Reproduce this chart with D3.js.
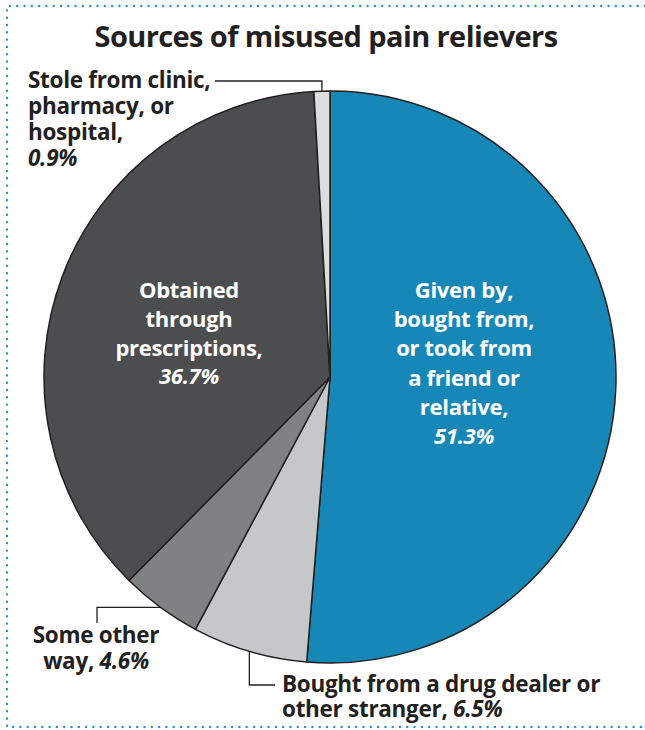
<!DOCTYPE html>
<html>
<head>
<meta charset="utf-8">
<script src="https://cdn.jsdelivr.net/npm/d3@7"></script>
<style>
  body { margin: 0; background: #fff; }
  svg text { font-family: "Open Sans", "Lato", sans-serif; font-weight: 700; fill: #231f20; }
</style>
</head>
<body>
<svg width="645" height="730"></svg>
<script>
// slice data, clockwise from 12 o'clock
var categories = ["Given by, bought from, or took from a friend or relative",
                  "Bought from a drug dealer or other stranger",
                  "Some other way",
                  "Obtained through prescriptions",
                  "Stole from clinic, pharmacy, or hospital"];
var shares = [51.3, 6.5, 4.6, 36.7, 0.9];
var pctLabels = ["51.3%", "6.5%", "4.6%", "36.7%", "0.9%"];
var sliceColors = ["#1787b8", "#c6c7c9", "#808184", "#4c4d4f", "#dcdddf"];

var svg = d3.select("svg");
var cx = 330, cy = 377, radius = 286;

// dotted frame (top, left, bottom)
var frame = svg.append("g")
    .attr("fill", "none")
    .attr("stroke", "#2b8fc6")
    .attr("stroke-width", 2.4)
    .attr("stroke-linecap", "round")
    .attr("stroke-dasharray", "0 7.3");
frame.append("path").attr("d", "M645,6 H7 V727 H645");

svg.append("text")
    .attr("x", 326)
    .attr("y", 47)
    .attr("text-anchor", "middle")
    .attr("font-size", 29)
    .attr("letter-spacing", -0.6)
    .text("Sources of misused pain relievers");

var data = categories.map(function (c, i) {
    return { name: c, value: shares[i], pct: pctLabels[i], color: sliceColors[i] };
});

var pie = d3.pie()
    .sort(null)
    .value(function (d) { return d.value; });
var arcs = pie(data);

var arc = d3.arc().innerRadius(0).outerRadius(radius);

var g = svg.append("g").attr("transform", "translate(" + cx + "," + cy + ")");

g.selectAll("path.slice")
    .data(arcs)
    .enter().append("path")
    .attr("class", "slice")
    .attr("d", arc)
    .attr("fill", function (d) { return d.data.color; })
    .attr("stroke", "#231f20")
    .attr("stroke-width", 1.5)
    .attr("stroke-linejoin", "round");

// point on the rim at the middle of a slice
function rim(d) {
    var a = (d.startAngle + d.endAngle) / 2;
    return [cx + radius * Math.sin(a), cy - radius * Math.cos(a)];
}

function label(x, y, lines, anchor, lh, size, fill) {
    var t = svg.append("text")
        .attr("text-anchor", anchor)
        .attr("font-size", size)
        .attr("letter-spacing", -0.3);
    if (fill) t.style("fill", fill);
    lines.forEach(function (ln, i) {
        var ts = t.append("tspan").attr("x", x).attr("y", y + i * lh);
        ln.forEach(function (part) {
            ts.append("tspan")
                .attr("font-style", part.it ? "italic" : null)
                .text(part.t);
        });
    });
    return t;
}

var leaders = svg.append("g")
    .attr("fill", "none")
    .attr("stroke", "#231f20")
    .attr("stroke-width", 1.3);

// inside labels
label(464, 298, [[{t: "Given by,"}], [{t: "bought from,"}], [{t: "or took from"}],
    [{t: "a friend or"}], [{t: "relative,"}], [{t: arcs[0].data.pct, it: true}]],
    "middle", 29.2, 22, "#fff");

label(189, 298, [[{t: "Obtained"}], [{t: "through"}], [{t: "prescriptions,"}],
    [{t: arcs[3].data.pct, it: true}]], "middle", 28.8, 22, "#fff");

// stole
var p4 = rim(arcs[4]);
leaders.append("path").attr("d", "M215,81 H" + p4[0] + " V" + p4[1]);
label(28, 88, [[{t: "Stole from clinic,"}], [{t: "pharmacy, or"}], [{t: "hospital,"}],
    [{t: arcs[4].data.pct, it: true}]], "start", 26, 22.5);

// some other way
var p2 = rim(arcs[2]);
leaders.append("path").attr("d", "M97,623 V" + p2[1] + " H" + p2[0]);
label(96, 643, [[{t: "Some other"}], [{t: "way, "}, {t: arcs[2].data.pct, it: true}]], "middle", 26, 22.5);

// drug dealer
var p1 = rim(arcs[1]);
leaders.append("path").attr("d", "M" + p1[0] + "," + p1[1] + " V685 H275");
label(282, 692, [[{t: "Bought from a drug dealer or"}],
    [{t: "other stranger, "}, {t: arcs[1].data.pct, it: true}]], "start", 25, 22.5);
</script>
</body>
</html>
